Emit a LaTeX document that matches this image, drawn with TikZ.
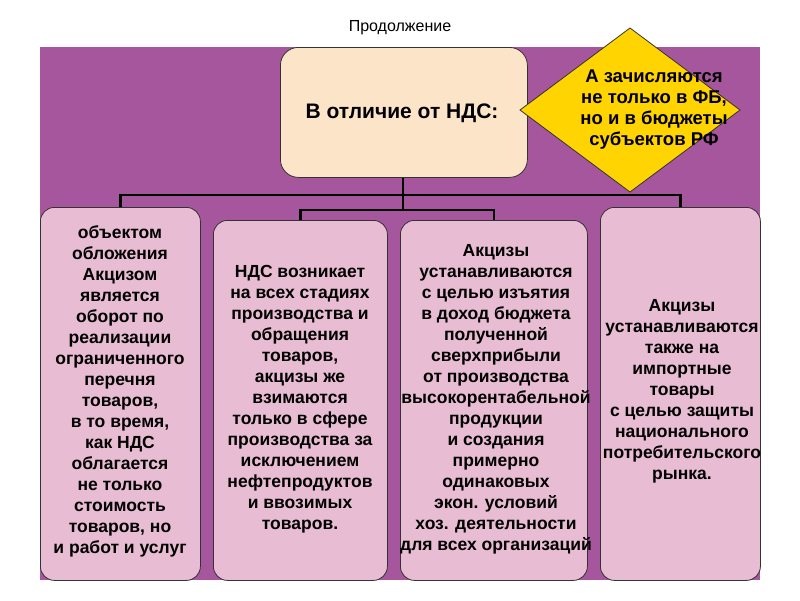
\documentclass[tikz,border=0pt]{standalone}
\usepackage{fontspec}
\setmainfont{Liberation Sans}
\definecolor{bgpurple}{RGB}{166,86,156}
\definecolor{peach}{RGB}{252,228,200}
\definecolor{pinkbox}{RGB}{232,188,210}
\definecolor{gold}{RGB}{255,212,0}
\tikzset{
  x=1pt,y=-1pt,
  textbox/.style={draw=black!80,thick,fill=pinkbox,rounded corners=14pt,anchor=north west,inner sep=0pt},
  boxtext/.style={font=\bfseries\fontsize{17.5}{21}\selectfont,align=center,anchor=north},
  tree/.style={line width=2.5pt,black}
}
\begin{document}
\begin{tikzpicture}
  \useasboundingbox (0,0) rectangle (800,600);
  % фон
  \fill[bgpurple] (40,47) rectangle (760,580);
  \node[font=\fontsize{16}{18}\selectfont] (title) at (400,28) {Продолжение};
  % верхний блок
  \node[draw=black!80,thick,fill=peach,rounded corners=18pt,anchor=north west,
        minimum width=247pt,minimum height=130pt,inner sep=0pt] (top) at (280,47) {};
  \node[font=\bfseries\fontsize{21}{24}\selectfont] (toplabel) at (402,113) {В отличие от НДС:};
  % ромб
  \coordinate (dia) at (654,110);
  \draw[black!80,thick,fill=gold] (520,110) -- (630,28) -- (740,110) -- (630,192) -- cycle;
  \node[font=\bfseries\fontsize{18.5}{21}\selectfont,align=center] (dialabel) at (dia)
        {А зачисляются\\не только в ФБ,\\но и в бюджеты\\ субъектов РФ};
  % нижние блоки
  \node[textbox,minimum width=160pt,minimum height=373pt] (b1) at (40,207) {};
  \node[textbox,minimum width=174pt,minimum height=360pt] (b2) at (213,220) {};
  \node[textbox,minimum width=187pt,minimum height=360pt] (b3) at (400,220) {};
  \node[textbox,minimum width=160pt,minimum height=373pt] (b4) at (600,207) {};
  % тексты
  \node[boxtext] (t1) at (120,222)
    {объектом\\обложения\\Акцизом\\является\\оборот по\\реализации\\ограниченного\\перечня\\товаров,\\в то время,\\как НДС\\облагается\\не только\\стоимость\\товаров, но\\и работ и услуг};
  \node[boxtext] (t2) at (300,262)
    {НДС возникает\\на всех стадиях\\производства и\\обращения\\товаров,\\акцизы же\\взимаются\\только в сфере\\производства за\\исключением\\нефтепродуктов\\и ввозимых\\товаров.};
  \node[boxtext] (t3) at (496,241)
    {Акцизы\\устанавливаются\\с целью изъятия\\в доход бюджета\\полученной\\сверхприбыли\\от производства\\высокорентабельной\\продукции\\и создания\\примерно\\одинаковых\\экон. условий\\хоз. деятельности\\для всех организаций};
  \node[boxtext] (t4) at (682,296)
    {Акцизы\\устанавливаются\\также на\\импортные\\товары\\с целью защиты\\национального\\потребительского\\рынка.};
  % линии дерева
  \coordinate (hub) at (403,195);
  \coordinate (hubin) at (403,210);
  \draw[tree] (top.south -| hub) -- (hubin);
  \draw[tree] (b1.north) |- (hub) -| (b4.north);
  \draw[tree] (b2.north) |- (hubin) -| (b3.north);
\end{tikzpicture}
\end{document}
